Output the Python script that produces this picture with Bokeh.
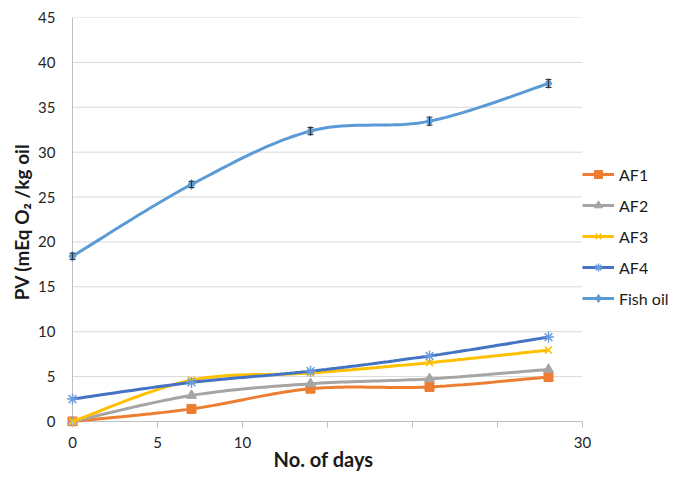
import numpy as np
from bokeh.plotting import figure
from bokeh.models import (Range1d, Legend, LegendItem, FixedTicker, Whisker,
                          ColumnDataSource, TeeHead)
from bokeh.embed import file_html
from bokeh.resources import INLINE

# ---- data ----
days = [0, 7, 14, 21, 28]
af1 = [0.0, 1.4, 3.65, 3.85, 4.95]
af2 = [0.0, 2.9, 4.2, 4.75, 5.8]
af3 = [0.0, 4.6, 5.4, 6.55, 7.95]
af4 = [2.5, 4.35, 5.6, 7.3, 9.4]
fish_oil = [18.4, 26.4, 32.35, 33.45, 37.65]
fish_err = [0.35, 0.35, 0.4, 0.45, 0.45]

series_names = ["AF1", "AF2", "AF3", "AF4", "Fish oil"]
x_ticks = [0, 5, 10, 15, 20, 25, 30]
x_tick_labels = ["0", "5", "10", "", "", "", "30"]
y_ticks = [0, 5, 10, 15, 20, 25, 30, 35, 40, 45]

FONT = "Lato"
GRID = "#D9D9D9"
AXIS = "#BFBFBF"


def smooth(xs, ys, n=24):
    """Excel-style smoothed line: cubic Bezier with Catmull-Rom control points."""
    P = np.column_stack([np.asarray(xs, float), np.asarray(ys, float)])
    out = [P[0]]
    m = len(P)
    for i in range(m - 1):
        p0 = P[i - 1] if i > 0 else P[i]
        p1 = P[i]
        p2 = P[i + 1]
        p3 = P[i + 2] if i + 2 < m else P[i + 1]
        c1 = p1 + (p2 - p0) / 6.0
        c2 = p2 - (p3 - p1) / 6.0
        t = np.linspace(0, 1, n)[1:, None]
        seg = ((1 - t) ** 3) * p1 + 3 * ((1 - t) ** 2) * t * c1 \
            + 3 * (1 - t) * t * t * c2 + (t ** 3) * p2
        out.extend(seg)
    out = np.array(out)
    return out[:, 0], out[:, 1]


# small padding below 0 / left of 0 so the markers at the origin are not clipped
p = figure(frame_width=518, frame_height=409, output_backend="svg",
           toolbar_location=None, x_range=Range1d(-0.47, 30),
           y_range=Range1d(-0.56, 45),
           min_border_left=64, min_border_top=17, min_border_bottom=50,
           min_border_right=10)
p.outline_line_color = None
p.background_fill_color = "white"
p.border_fill_color = "white"

# axes (their own lines hidden; drawn at 0 below)
p.xaxis.ticker = FixedTicker(ticks=x_ticks)
p.xaxis.major_label_overrides = {t: l for t, l in zip(x_ticks, x_tick_labels)}
p.xaxis.axis_line_color = None
p.xaxis.major_tick_line_color = AXIS
p.xaxis.major_tick_in = 5
p.xaxis.major_tick_out = 1
p.xaxis.minor_tick_line_color = None
p.xaxis.major_label_standoff = 9
p.xaxis.axis_label = "No. of days"
p.xaxis.axis_label_standoff = -4

p.yaxis.ticker = FixedTicker(ticks=y_ticks)
p.yaxis.axis_line_color = None
p.yaxis.major_tick_line_color = None
p.yaxis.minor_tick_line_color = None
p.yaxis.major_label_standoff = 3
p.yaxis.axis_label = "PV (mEq O\u2082 /kg oil"
p.yaxis.axis_label_standoff = 2

for ax in (p.xaxis, p.yaxis):
    ax.major_label_text_font = FONT
    ax.major_label_text_font_size = "15px"
    ax.major_label_text_color = "#262626"
    ax.axis_label_text_font = FONT
    ax.axis_label_text_font_style = "bold"
    ax.axis_label_text_color = "#1a1a1a"
p.xaxis.axis_label_text_font_size = "20px"
p.yaxis.axis_label_text_font_size = "19px"

p.xgrid.grid_line_color = None
p.ygrid.grid_line_color = None

# horizontal gridlines and axis lines, starting at x = 0 / y = 0
gy = y_ticks[1:]
p.segment(x0=[x_ticks[0]] * len(gy), x1=[x_ticks[-1]] * len(gy), y0=gy, y1=gy,
          line_color=GRID, line_width=1, level="underlay")
p.segment(x0=[x_ticks[0]], x1=[x_ticks[-1]], y0=[y_ticks[0]], y1=[y_ticks[0]],
          line_color=AXIS, line_width=1, level="underlay")
p.segment(x0=[x_ticks[0]], x1=[x_ticks[0]], y0=[y_ticks[0]], y1=[y_ticks[-1]],
          line_color=AXIS, line_width=1, level="underlay")

colors = ["#ED7D31", "#A5A5A5", "#FFC000", "#4472C4", "#5B9BD5"]
marker_colors = ["#ED7D31", "#A5A5A5", "#FFC000", "#6C9BDF", "#5B9BD5"]
markers = ["square", "triangle", "x", "asterisk", "diamond"]
sizes = [9, 10, 10, 11, 10]
values = [af1, af2, af3, af4, fish_oil]

items = []
for name, col, mk, sz, vals, mcol in zip(series_names, colors, markers, sizes,
                                         values, marker_colors):
    sx, sy = smooth(days, vals)
    lr = p.line(sx, sy, line_color=col, line_width=3)
    src = ColumnDataSource(dict(x=days, y=vals))
    if mk in ("x", "asterisk"):
        sr = p.scatter("x", "y", source=src, marker=mk, size=sz,
                       line_color=mcol, line_width=1.5)
    else:
        sr = p.scatter("x", "y", source=src, marker=mk, size=sz,
                       fill_color=mcol, line_color=mcol)
    items.append(LegendItem(label=name, renderers=[lr, sr]))

# error bars of the fish oil series
err_src = ColumnDataSource(dict(
    x=days,
    upper=[v + e for v, e in zip(fish_oil, fish_err)],
    lower=[v - e for v, e in zip(fish_oil, fish_err)]))
p.add_layout(Whisker(source=err_src, base="x", upper="upper", lower="lower",
                     line_color="#333333", line_width=1, level="overlay",
                     upper_head=TeeHead(size=6, line_color="#333333", line_width=1),
                     lower_head=TeeHead(size=6, line_color="#333333", line_width=1)))

legend = Legend(items=items, location=(0, 118), padding=0, margin=0,
                spacing=11, glyph_width=32, glyph_height=20, label_height=20,
                label_standoff=5, label_text_font=FONT, label_text_font_size="16px",
                label_text_color="#1a1a1a", border_line_color=None,
                background_fill_color="white", background_fill_alpha=1.0)
p.add_layout(legend, "right")

open("out.html", "w").write(file_html(p, INLINE))
